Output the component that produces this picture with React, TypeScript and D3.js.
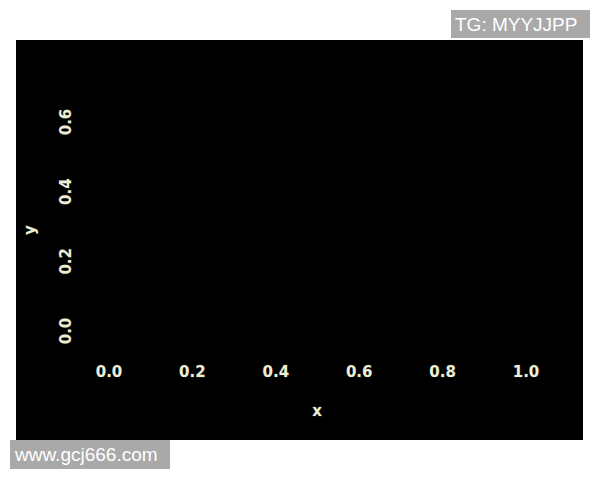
import React from "react";
import * as d3 from "d3";

const xTicks = [0.0, 0.2, 0.4, 0.6, 0.8, 1.0];
const yTicks = [0.0, 0.2, 0.4, 0.6];
const xLabel = "x";
const yLabel = "y";
const watermarkTop = "TG: MYYJJPP";
const watermarkBottom = "www.gcj666.com";

const W = 600;
const H = 480;

export default function App() {
  const x = d3.scaleLinear().domain([0, 1]).range([109, 526]);
  const y = d3.scaleLinear().domain([0, 0.6]).range([331, 122]);
  const fmt = d3.format(".1f");
  const tickStyle = {
    fontFamily: "DejaVu Sans",
    fontSize: 15,
    fontWeight: "bold",
    fill: "#eeeed6",
    stroke: "#222",
    strokeWidth: 0.8,
    paintOrder: "stroke",
  } as React.CSSProperties;
  return (
    <svg
      width={W}
      height={H}
      style={{ position: "absolute", left: 0, top: 0, background: "#fff" }}
    >
      <rect x={16} y={40} width={567} height={400} fill="#000" />
      {xTicks.map((t) => (
        <text
          key={"x" + t}
          x={x(t)}
          y={372}
          textAnchor="middle"
          dominantBaseline="central"
          style={tickStyle}
        >
          {fmt(t)}
        </text>
      ))}
      {yTicks.map((t) => (
        <text
          key={"y" + t}
          transform={`translate(66,${y(t)}) rotate(-90)`}
          textAnchor="middle"
          dominantBaseline="central"
          style={tickStyle}
        >
          {fmt(t)}
        </text>
      ))}
      <text
        x={317}
        y={411}
        textAnchor="middle"
        dominantBaseline="central"
        style={tickStyle}
      >
        {xLabel}
      </text>
      <text
        transform="translate(30,230) rotate(-90)"
        textAnchor="middle"
        dominantBaseline="central"
        style={tickStyle}
      >
        {yLabel}
      </text>
      <rect x={451} y={10} width={139} height={28} fill="#a9a9a9" />
      <text
        x={455}
        y={31}
        fontFamily="Liberation Sans"
        fontSize={19}
        fill="#fff"
      >
        {watermarkTop}
      </text>
      <rect x={10} y={440} width={160} height={29} fill="#a9a9a9" />
      <text
        x={15}
        y={461}
        fontFamily="Liberation Sans"
        fontSize={19}
        fill="#fff"
      >
        {watermarkBottom}
      </text>
    </svg>
  );
}
